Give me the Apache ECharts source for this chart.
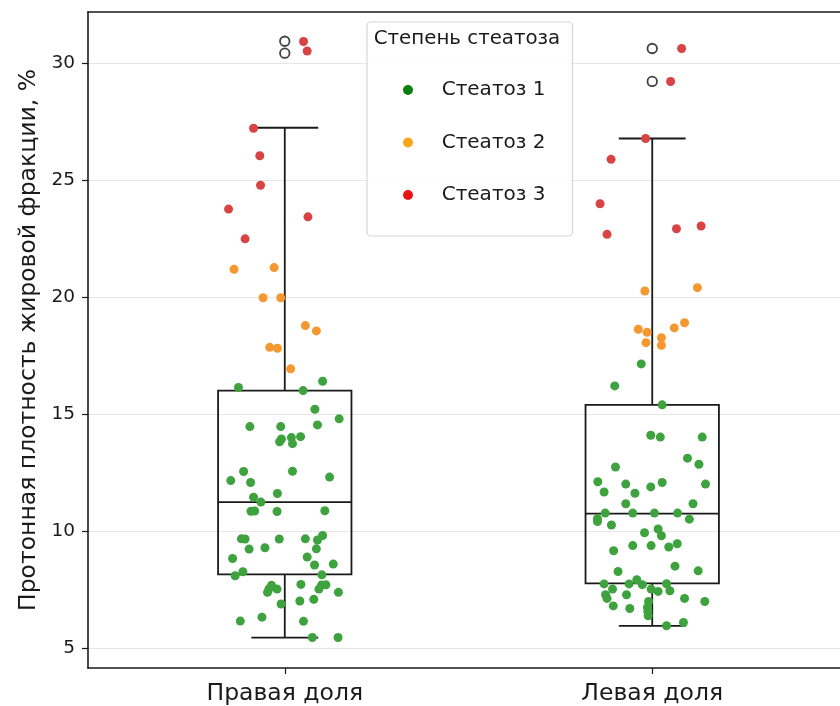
<!DOCTYPE html>
<html>
<head>
<meta charset="utf-8">
<script src="https://cdn.jsdelivr.net/npm/echarts@6/dist/echarts.min.js"></script>
<style>html,body{margin:0;padding:0;background:#fff}#c{width:840px;height:706px}</style>
</head>
<body>
<div id="c"></div>
<script>
// ---------- DATA ----------
const categories = ['Правая доля', 'Левая доля'];
const yTicks = [5, 10, 15, 20, 25, 30];
const seriesNames = ['Стеатоз 1', 'Стеатоз 2', 'Стеатоз 3'];

// Box statistics [min whisker, Q1, median, Q3, max whisker]
const boxMin    = [5.44, 5.95];
const boxQ1     = [8.15, 7.76];
const boxMedian = [11.24, 10.75];
const boxQ3     = [16.01, 15.40];
const boxMax    = [27.25, 26.79];

// Outliers (flier) values per category
const outliersRight = [30.95, 30.44];
const outliersLeft  = [30.64, 29.23];

// Right lobe (Правая доля) — values and horizontal jitter
const rightS3Values = [30.94, 30.53, 27.23, 26.05, 24.79, 23.77, 23.44, 22.50];
const rightS3Jitter = [0.051, 0.061, -0.085, -0.068, -0.066, -0.153, 0.063, -0.108];
const rightS2Values = [21.20, 21.27, 19.98, 19.98, 18.79, 18.56, 17.86, 17.82, 16.94];
const rightS2Jitter = [-0.138, -0.029, -0.059, -0.011, 0.056, 0.086, -0.041, -0.020, 0.016];
const rightS1Values = [16.14, 16.41, 16.01, 15.21, 14.80, 14.47, 14.47, 14.54, 13.94, 13.82,
  14.00, 13.74, 14.04, 12.55, 12.56, 12.16, 12.08, 12.31, 11.61, 11.45,
  11.24, 10.85, 10.86, 10.84, 10.87, 9.67, 9.66, 9.66, 9.67, 9.62,
  9.81, 9.23, 9.29, 9.24, 8.83, 8.89, 8.55, 8.59, 8.26, 8.09,
  8.13, 7.68, 7.53, 7.52, 7.38, 7.72, 7.52, 7.69, 7.70, 7.38,
  7.01, 7.08, 6.88, 6.15, 6.32, 6.14, 5.45, 5.45];
const rightS1Jitter = [-0.126, 0.103, 0.050, 0.082, 0.148, -0.095, -0.011, 0.089, -0.009, -0.014,
  0.018, 0.021, 0.043, -0.112, 0.021, -0.147, -0.093, 0.122, -0.020, -0.085,
  -0.065, -0.092, -0.082, -0.021, 0.109, -0.118, -0.108, -0.015, 0.056, 0.089,
  0.103, -0.097, -0.054, 0.086, -0.142, 0.061, 0.081, 0.132, -0.114, -0.135,
  0.101, -0.036, -0.043, -0.021, -0.047, 0.044, 0.093, 0.100, 0.112, 0.146,
  0.041, 0.079, -0.010, -0.121, -0.062, 0.051, 0.075, 0.145];

// Left lobe (Левая доля)
const leftS3Values = [30.64, 29.23, 26.79, 25.90, 24.00, 22.69, 22.93, 23.05];
const leftS3Jitter = [0.080, 0.050, -0.018, -0.112, -0.142, -0.123, 0.066, 0.133];
const leftS2Values = [20.27, 20.41, 18.91, 18.69, 18.63, 18.50, 18.27, 18.06, 17.95];
const leftS2Jitter = [-0.020, 0.123, 0.088, 0.060, -0.038, -0.014, 0.025, -0.017, 0.025];
const leftS1Values = [17.15, 16.21, 15.40, 14.10, 14.02, 14.02, 13.12, 12.86, 12.74, 12.11,
  12.01, 11.89, 12.08, 12.01, 11.67, 11.62, 11.17, 11.17, 10.77, 10.77,
  10.77, 10.77, 10.53, 10.41, 10.51, 10.26, 9.93, 10.09, 9.80, 9.16,
  9.38, 9.38, 9.32, 9.46, 8.27, 8.50, 8.30, 7.74, 7.52, 7.74,
  7.92, 7.71, 7.52, 7.42, 7.75, 7.45, 7.28, 7.12, 7.28, 6.99,
  7.12, 6.99, 6.80, 6.69, 6.74, 6.57, 6.38, 5.95, 6.09];
const leftS1Jitter = [-0.030, -0.102, 0.027, -0.004, 0.022, 0.136, 0.096, 0.127, -0.100, -0.148,
  -0.072, -0.004, 0.027, 0.145, -0.131, -0.047, -0.072, 0.111, -0.128, -0.053,
  0.006, 0.069, -0.149, -0.149, 0.101, -0.111, -0.021, 0.016, 0.025, -0.105,
  -0.053, -0.003, 0.045, 0.068, -0.093, 0.062, 0.125, -0.131, -0.108, -0.063,
  -0.042, -0.027, -0.003, 0.016, 0.039, 0.048, -0.127, -0.123, -0.070, -0.010,
  0.088, 0.143, -0.106, -0.061, -0.013, -0.012, -0.011, 0.039, 0.085];

// ---------- STYLE ----------
const FONT = 'DejaVu Sans';
const TEXT = '#1a1a1a';
const dotColors = ['#3ea23e', '#f5982f', '#d84444'];
const legendColors = ['#0b7f0b', '#f7a51c', '#ea1414'];
const BOX_WIDTH = 0.363;
const CAP_WIDTH = 0.182;

function pts(cat, values, jitter) {
  return values.map((v, i) => [cat + jitter[i], v]);
}
const gradeData = [
  pts(0, rightS1Values, rightS1Jitter).concat(pts(1, leftS1Values, leftS1Jitter)),
  pts(0, rightS2Values, rightS2Jitter).concat(pts(1, leftS2Values, leftS2Jitter)),
  pts(0, rightS3Values, rightS3Jitter).concat(pts(1, leftS3Values, leftS3Jitter))
];
const boxData = categories.map((c, i) => [i, boxMin[i], boxQ1[i], boxMedian[i], boxQ3[i], boxMax[i]]);
const outlierData = outliersRight.map(v => [0, v]).concat(outliersLeft.map(v => [1, v]));

const chart = echarts.init(document.getElementById('c'), null, {renderer: 'canvas'});

const lineStyle = {stroke: '#1a1a1a', lineWidth: 1.8, fill: null};
const option = {
  animation: false,
  backgroundColor: '#ffffff',
  textStyle: {fontFamily: FONT, color: TEXT},
  grid: {left: 88, right: 0, top: 12, bottom: 38, containLabel: false},
  xAxis: [{
    type: 'value', min: -0.5355, max: 1.511,
    axisLine: {show: true, onZero: false, lineStyle: {color: '#1a1a1a', width: 1.6}},
    axisTick: {show: true, length: 6, customValues: [0, 1], lineStyle: {color: '#1a1a1a', width: 1.2}},
    axisLabel: {customValues: [0, 1], formatter: v => categories[Math.round(v)],
      fontSize: 23.5, color: TEXT, fontFamily: FONT, margin: 14},
    splitLine: {show: false}
  }, {
    type: 'value', position: 'top', min: -0.5355, max: 1.511,
    axisLine: {show: true, onZero: false, lineStyle: {color: '#1a1a1a', width: 1.6}},
    axisTick: {show: false}, axisLabel: {show: false}, splitLine: {show: false}
  }],
  yAxis: {
    type: 'value', min: 4.145, max: 32.2,
    name: 'Протонная плотность жировой фракции, %',
    nameLocation: 'middle', nameRotate: 90, nameGap: 46,
    nameTextStyle: {fontSize: 23.5, color: TEXT, fontFamily: FONT},
    axisLine: {show: true, onZero: false, lineStyle: {color: '#1a1a1a', width: 1.6}},
    axisTick: {show: true, length: 6, customValues: yTicks, lineStyle: {color: '#1a1a1a', width: 1.2}},
    axisLabel: {customValues: yTicks, fontSize: 18.5, color: TEXT, fontFamily: FONT, margin: 13},
    splitLine: {show: true, lineStyle: {color: '#e6e6e6', width: 1.2}}
  },
  legend: {
    orient: 'vertical', left: 367, top: 22,
    padding: [58, 27, 31, 36],
    itemGap: 32.5, itemWidth: 10, itemHeight: 10,
    backgroundColor: 'rgba(255,255,255,0.85)',
    borderColor: '#d6d6d6', borderWidth: 1.2, borderRadius: 4,
    textStyle: {fontSize: 20, color: TEXT, fontFamily: FONT, lineHeight: 20, padding: [0, 0, 0, 23.7]},
    data: seriesNames.map((n, i) => ({name: n, icon: 'circle', itemStyle: {color: legendColors[i], opacity: 1}}))
  },
  graphic: [{
    type: 'text', x: 467, y: 39, z: 100,
    style: {text: 'Степень стеатоза', fontSize: 19.8, fontFamily: FONT, fill: TEXT,
      textAlign: 'center', textVerticalAlign: 'middle'}
  }],
  series: [
    {
      type: 'custom', name: 'box', z: 2,
      encode: {x: 0, y: [1, 2, 3, 4, 5]},
      data: boxData,
      renderItem: function (params, api) {
        const c = api.value(0);
        const lo = api.value(1), q1 = api.value(2), med = api.value(3), q3 = api.value(4), hi = api.value(5);
        const hw = BOX_WIDTH / 2, cw = CAP_WIDTH / 2;
        const p = (x, y) => api.coord([x, y]);
        const ln = (a, b) => ({type: 'line', shape: {x1: a[0], y1: a[1], x2: b[0], y2: b[1]}, style: lineStyle});
        return {
          type: 'group',
          children: [
            {type: 'polygon', shape: {points: [p(c - hw, q1), p(c + hw, q1), p(c + hw, q3), p(c - hw, q3)]}, style: lineStyle},
            ln(p(c - hw, med), p(c + hw, med)),
            ln(p(c, q3), p(c, hi)),
            ln(p(c, q1), p(c, lo)),
            ln(p(c - cw, hi), p(c + cw, hi)),
            ln(p(c - cw, lo), p(c + cw, lo))
          ]
        };
      }
    },
    {
      type: 'scatter', name: 'outliers', z: 3,
      symbol: 'circle', symbolSize: 9.5,
      itemStyle: {color: '#ffffff', borderColor: '#111111', borderWidth: 1.8},
      data: outlierData
    }
  ].concat(seriesNames.map((n, i) => ({
    type: 'scatter', name: n, z: 4,
    symbol: 'circle', symbolSize: 9,
    itemStyle: {color: dotColors[i], opacity: 1},
    data: gradeData[i]
  })))
};
chart.setOption(option);
</script>
</body>
</html>
